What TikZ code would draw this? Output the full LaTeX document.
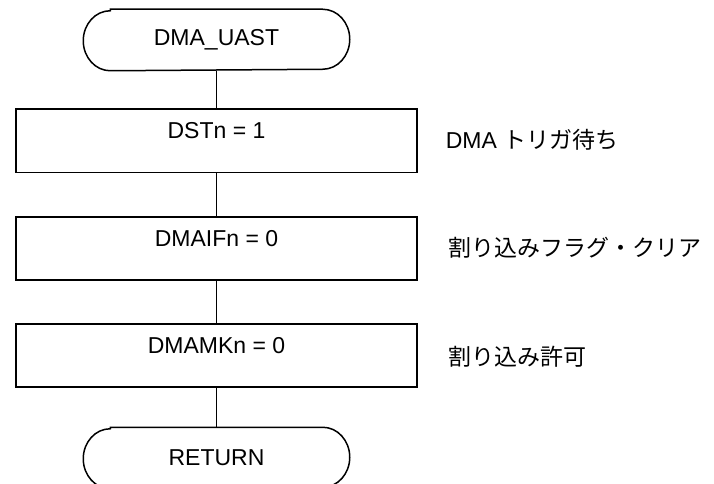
\documentclass[tikz,border=0pt]{standalone}
\usepackage{fontspec}
\setmainfont{Liberation Sans}
\newfontfamily\cjk{Noto Sans CJK JP}
\begin{document}
\begin{tikzpicture}[x=1pt,y=-1pt,
  line width=1.5pt,
  every node/.style={font=\fontsize{23}{26}\selectfont},
  termnode/.style={minimum width=211pt,minimum height=60pt,inner sep=0pt},
  procbox/.style={draw,minimum width=401pt,minimum height=63pt,anchor=north,
    inner xsep=2pt,inner ysep=13.5pt,text height=16pt,text depth=20pt},
  note/.style={anchor=base west,inner sep=0pt},
  conn/.style={draw}
]
\useasboundingbox (0,0) rectangle (714,484);
\clip (0,0) rectangle (714,484);
% start terminal
\node[termnode] (t1) at (216.5,40) {DMA\_UAST};
\draw (t1.north west) -- (t1.north east)
  arc[start angle=90,end angle=-90,x radius=27pt,y radius=30pt]
  -- (t1.south west)
  arc[start angle=270,end angle=90,x radius=27pt,y radius=30pt] -- cycle;
% process boxes
\node[procbox] (b1) at (216.5,108.5) {DSTn = 1};
\node[procbox] (b2) at (216.5,216) {DMAIFn = 0};
\node[procbox] (b3) at (216.5,323) {DMAMKn = 0};
% end terminal
\node[termnode] (t2) at (216.5,458) {RETURN};
\draw (t2.north west) -- (t2.north east)
  arc[start angle=90,end angle=-90,x radius=27pt,y radius=30pt]
  -- (t2.south west)
  arc[start angle=270,end angle=90,x radius=27pt,y radius=30pt] -- cycle;
% connectors
\path[conn] (t1.south) -- (b1.north);
\path[conn] (b1.south) -- (b2.north);
\path[conn] (b2.south) -- (b3.north);
\path[conn] (b3.south) -- (t2.north);
% notes
\node[note] (n1) at (445,148) {DMA {\cjk トリガ待ち}};
\node[note] (n2) at (448,256) {\cjk 割り込みフラグ・クリア};
\node[note] (n3) at (448,365) {\cjk 割り込み許可};
\end{tikzpicture}
\end{document}
